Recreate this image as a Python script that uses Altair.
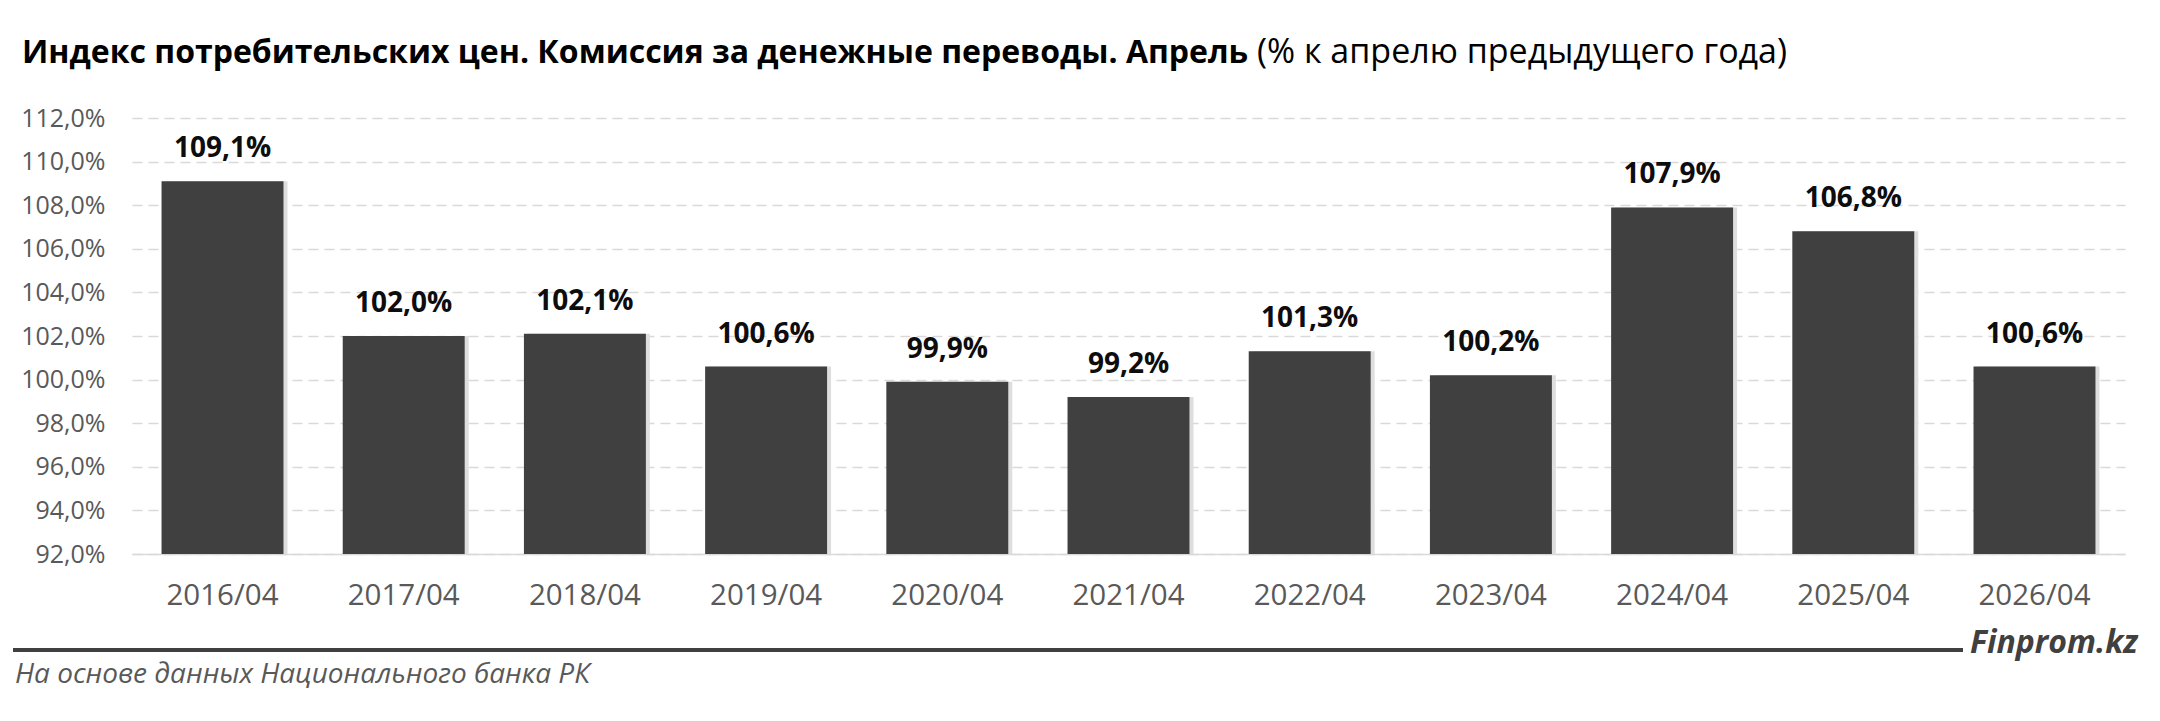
import altair as alt
import pandas as pd

# values
periods = ["2016/04", "2017/04", "2018/04", "2019/04", "2020/04", "2021/04",
           "2022/04", "2023/04", "2024/04", "2025/04", "2026/04"]
index_values = [109.1, 102.0, 102.1, 100.6, 99.9, 99.2, 101.3, 100.2, 107.9, 106.8, 100.6]
y_ticks = [92, 94, 96, 98, 100, 102, 104, 106, 108, 110, 112]

title_bold = "Индекс потребительских цен. Комиссия за денежные переводы. Апрель"
title_rest = "(% к апрелю предыдущего года)"
source_note = "На основе данных Национального банка РК"
brand = "Finprom.kz"

FONT = "Open Sans"
W, H = 1993, 436

df = pd.DataFrame({"period": periods, "value": index_values})
df["label"] = df["value"].map(lambda v: f"{v:.1f}".replace(".", ",") + "%")

x_enc = alt.X("period:N", sort=periods, title=None,
              scale=alt.Scale(paddingInner=0.327, paddingOuter=0.163),
              axis=alt.Axis(labelAngle=0, labelFont=FONT, labelFontSize=29.5,
                            labelColor="#595959", labelPadding=27, ticks=False,
                            domain=True, domainColor="#d9d9d9", domainWidth=1.5))
y_enc = alt.Y("value:Q", title=None,
              scale=alt.Scale(domain=[92, 112], nice=False, zero=False),
              axis=alt.Axis(values=y_ticks, ticks=False, domain=False,
                            labelExpr="replace(format(datum.value, '.1f'), '.', ',') + '%'",
                            labelFont=FONT, labelFontSize=25, labelColor="#595959",
                            labelPadding=27, gridColor="#d9d9d9", gridDash=[10, 6],
                            gridWidth=1.5))

base = alt.Chart(df)

shadow = base.mark_bar(color="#dedede", xOffset=4).encode(
    x=x_enc, y=y_enc, y2=alt.datum(92))
bars = base.mark_bar(color="#404040").encode(
    x=x_enc, y=y_enc, y2=alt.datum(92))
labels = base.mark_text(font=FONT, fontSize=28, fontWeight="bold", color="#0d0d0d",
                        baseline="alphabetic", dy=-24).encode(
    x=x_enc, y=y_enc, text="label:N")


def note(text, x, y, size, weight="normal", style="normal", color="#000000"):
    return alt.Chart(pd.DataFrame({"t": [text]})).mark_text(
        font=FONT, fontSize=size, fontWeight=weight, fontStyle=style, color=color,
        align="left", baseline="alphabetic").encode(
        text="t:N", x=alt.value(x), y=alt.value(y))


head1 = note(title_bold, -110, -55, 32, weight="bold")
head2 = note(title_rest, 1125, -55, 34)
foot = note(source_note, -117, 565, 28, style="italic", color="#595959")
mark = note(brand, 1838, 535, 32, weight="bold", style="italic", color="#404040")

rule = alt.Chart(pd.DataFrame({"a": [0]})).mark_rule(
    color="#404040", strokeWidth=4).encode(
    x=alt.value(-119), x2=alt.value(1831), y=alt.value(532))

chart = alt.layer(shadow, bars, labels, head1, head2, rule, foot, mark).properties(
    width=W, height=H,
    autosize=alt.AutoSizeParams(type="none"),
    padding={"left": 124, "top": 110, "right": 27, "bottom": 159},
    background="white",
).configure_view(stroke=None)

chart.save("out.html", embed_options={"renderer": "svg", "actions": False})
